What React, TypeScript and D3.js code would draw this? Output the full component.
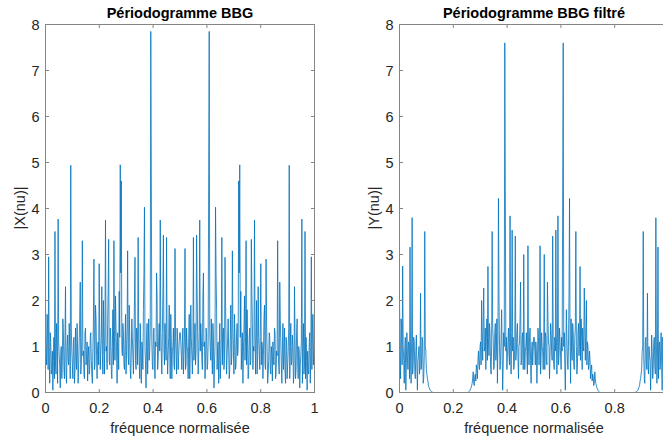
import React from 'react';
import * as d3 from 'd3';

const xTicks = [0, 0.2, 0.4, 0.6, 0.8, 1];
const xTickLabels = ['0', '0.2', '0.4', '0.6', '0.8', '1'];
const yTicks = [0, 1, 2, 3, 4, 5, 6, 7, 8];
const yTickLabels = ['0', '1', '2', '3', '4', '5', '6', '7', '8'];

// |X(nu)| : periodogram of the white gaussian noise (512 bins over [0,1])
const magX = [
  1.9, 0.9, 0.6, 1.7, 1.4, 0.5, 2.95, 0.8, 0.2, 1.3, 1.1, 0.4, 0.5, 0.9, 0.05, 0.7, 1.2, 0.3, 3.5, 0.6,
  0.4, 1.5, 0.9, 0.2, 3.77, 1.1, 0.8, 0.6, 0.1, 0.9, 1.0, 0.3, 0.7, 1.6, 1.3, 0.5, 0.3, 1.2, 2.3, 0.4,
  0.2, 1.0, 1.25, 0.7, 0.6, 1.5, 1.0, 0.3, 4.94, 1.4, 0.9, 0.6, 0.3, 1.1, 1.2, 0.2, 0.45, 1.4, 0.8, 0.5,
  1.5, 0.9, 0.2, 0.6, 1.1, 1.6, 2.4, 0.4, 0.6, 1.2, 3.3, 0.8, 0.9, 0.4, 0.3, 1.3, 1.4, 0.6, 0.7, 1.1,
  0.25, 0.8, 1.0, 0.4, 0.5, 1.2, 1.3, 0.7, 0.4, 0.2, 0.9, 1.5, 2.9, 0.5, 0.6, 1.9, 1.6, 0.8, 0.3, 1.0,
  1.1, 0.6, 2.8, 1.3, 0.5, 0.9, 1.2, 2.3, 0.8, 0.4, 2.0, 1.1, 0.4, 1.6, 3.75, 0.9, 1.0, 0.5, 1.5, 2.2,
  3.33, 0.7, 0.6, 1.4, 1.2, 0.5, 0.3, 1.0, 1.8, 0.6, 3.3, 1.2, 0.7, 2.1, 1.4, 0.9, 0.2, 1.3, 1.0, 0.5,
  2.2, 1.2, 4.95, 2.6, 4.6, 1.0, 0.8, 1.5, 1.3, 0.6, 0.5, 1.1, 1.7, 0.4, 0.9, 1.4, 3.08, 0.8, 0.6, 1.9,
  1.2, 0.5, 0.3, 0.9, 1.6, 1.2, 0.8, 0.4, 1.1, 2.0, 2.94, 0.7, 0.5, 1.4, 1.3, 0.6, 3.37, 1.2, 0.7, 0.3,
  1.5, 0.8, 0.2, 1.1, 1.0, 0.5, 1.8, 2.6, 4.03, 1.0, 0.6, 0.1, 1.2, 1.5, 0.4, 0.9, 1.6, 0.7, 0.9, 1.4,
  7.85, 4.8, 1.1, 0.6, 0.5, 1.3, 1.4, 0.7, 0.3, 1.1, 1.0, 2.6, 2.1, 0.5, 0.7, 1.2, 1.5, 0.9, 3.75, 1.3,
  0.8, 0.4, 1.3, 2.2, 3.42, 0.9, 0.6, 1.5, 1.1, 0.7, 3.37, 1.0, 0.4, 0.8, 1.2, 1.9, 0.9, 0.3, 1.7, 1.1,
  0.3, 0.9, 1.0, 1.4, 0.6, 0.5, 3.13, 1.2, 0.8, 0.4, 1.4, 1.1, 0.5, 0.8, 1.1, 1.3,
  1.3, 1.1, 0.8, 0.5, 1.1, 1.4, 0.4, 0.8, 1.2, 3.13, 0.5, 0.6, 1.4, 1.0, 0.9, 0.3,
  1.1, 1.7, 0.3, 0.9, 1.9, 1.2, 0.8, 0.4, 1.0, 3.37, 0.7, 1.1, 1.5, 0.6, 0.9, 3.42, 2.2, 1.3, 0.4, 0.8,
  1.3, 3.75, 0.9, 1.5, 1.2, 0.7, 0.5, 2.1, 2.6, 1.0, 1.1, 0.3, 0.7, 1.4, 1.3, 0.5, 0.6, 1.1, 4.8, 7.85,
  1.4, 0.9, 0.7, 1.6, 0.9, 0.4, 1.5, 1.2, 0.1, 0.6, 1.0, 4.03, 2.6, 1.8, 0.5, 1.0, 1.1, 0.2, 0.8, 1.5,
  0.3, 0.7, 1.2, 3.37, 0.6, 1.3, 1.4, 0.5, 0.7, 2.94, 2.0, 1.1, 0.4, 0.8, 1.2, 1.6, 0.9, 0.3, 0.5, 1.2,
  1.9, 0.6, 0.8, 3.08, 1.4, 0.9, 0.4, 1.7, 1.1, 0.5, 0.6, 1.3, 1.5, 0.8, 1.0, 4.6, 2.6, 4.95, 1.2, 2.2,
  0.5, 1.0, 1.3, 0.2, 0.9, 1.4, 2.1, 0.7, 1.2, 3.3, 0.6, 1.8, 1.0, 0.3, 0.5, 1.2, 1.4, 0.6, 0.7, 3.33,
  2.2, 1.5, 0.5, 1.0, 0.9, 3.75, 1.6, 0.4, 1.1, 2.0, 0.4, 0.8, 2.3, 1.2, 0.9, 0.5, 1.3, 2.8, 0.6, 1.1,
  1.0, 0.3, 0.8, 1.6, 1.9, 0.6, 0.5, 2.9, 1.5, 0.9, 0.2, 0.4, 0.7, 1.3, 1.2, 0.5, 0.4, 1.0, 0.8, 0.25,
  1.1, 0.7, 0.6, 1.4, 1.3, 0.3, 0.4, 0.9, 0.8, 3.3, 1.2, 0.6, 0.4, 2.4, 1.6, 1.1, 0.6, 0.2, 0.9, 1.5,
  0.5, 0.8, 1.4, 0.45, 0.2, 1.2, 1.1, 0.3, 0.6, 0.9, 1.4, 4.94, 0.3, 1.0, 1.5, 0.6, 0.7, 1.25, 1.0, 0.2,
  0.4, 2.3, 1.2, 0.3, 0.5, 1.3, 1.6, 0.7, 0.3, 1.0, 0.9, 0.1, 0.6, 0.8, 1.1, 3.77, 0.2, 0.9, 1.5, 0.4,
  0.6, 3.5, 0.3, 1.2, 0.7, 0.05, 0.9, 0.5, 0.4, 1.1, 1.3, 0.2, 0.8, 2.95, 0.5, 1.4, 1.7, 0.6, 0.9, 1.9,
];

// |Y(nu)| : periodogram after filtering (512 bins over [0,1])
const magY = [
  2.05, 0.9, 0.3, 1.6, 1.4, 0.6, 2.75, 1.0, 0.7, 0.2, 0.9, 1.2, 0.05, 0.6, 1.3, 0.8, 0.5, 1.1, 1.0, 0.3,
  3.16, 0.7, 0.2, 1.1, 3.8, 0.4, 0.6, 1.2, 1.1, 0.5, 0.3, 0.9, 1.25, 0.6, 0.05, 0.7, 0.8, 1.0, 0.4, 0.6,
  2.16, 0.5, 0.6, 1.2, 1.1, 0.2, 0.3, 0.8, 3.5, 1.0, 0.9, 0.5, 0.4, 0.3, 0.25, 0.15, 0.12, 0.08, 0.05, 0.04,
  0.03, 0.02, 0.01, 0.005, 0, 0, 0, 0, 0, 0, 0, 0, 0, 0, 0, 0, 0, 0, 0, 0,
  0, 0, 0, 0, 0, 0, 0, 0, 0, 0, 0, 0, 0, 0, 0, 0, 0, 0, 0, 0,
  0, 0, 0, 0, 0, 0, 0, 0, 0, 0, 0, 0, 0, 0, 0, 0, 0, 0, 0, 0,
  0, 0, 0, 0, 0, 0, 0, 0, 0, 0, 0.01, 0.01, 0.02, 0.03, 0.05, 0.08, 0.1, 0.15, 0.2, 0.3,
  0.45, 0.2, 0.15, 0.35, 0.4, 0.25, 0.6, 0.5, 0.3, 0.7, 0.9, 0.6, 0.5, 1.0, 1.1, 0.6, 2.0, 1.3, 0.7, 1.5,
  2.27, 0.9, 1.0, 1.4, 0.5, 1.2, 1.6, 0.7, 2.74, 1.1, 0.8, 1.5, 1.3, 0.6, 0.4, 1.0, 3.5, 1.4, 1.2, 0.5,
  0.6, 1.3, 1.5, 0.7, 0.9, 1.6, 0.2, 1.1, 4.22, 2.1, 1.0, 0.5, 0.7, 1.2, 1.8, 0.9, 0.05, 0.6, 1.3, 1.0,
  7.6, 4.4, 0.9, 1.2, 0.5, 0.8, 1.1, 1.4, 0.8, 0.6, 3.84, 1.0, 0.4, 1.3, 3.53, 0.9, 1.2, 0.5, 0.6, 1.1,
  3.4, 0.7, 0.9, 1.3, 1.5, 0.8, 0.3, 1.0, 1.1, 1.6, 2.4, 0.6, 0.7, 1.2, 1.3, 0.5, 3.0, 1.1, 0.5, 0.9,
  1.0, 1.3, 0.8, 0.4, 3.19, 1.0, 0.6, 1.2, 1.4, 0.7, 0.2, 0.9, 1.1, 0.6, 0.9, 1.2,
  1.2, 0.9, 0.6, 1.1, 0.9, 0.2, 0.7, 1.4, 1.2, 0.6, 1.0, 3.19, 0.4, 0.8, 1.3, 1.0,
  0.9, 0.5, 1.1, 3.0, 0.5, 1.3, 1.2, 0.7, 0.6, 2.4, 1.6, 1.1, 1.0, 0.3, 0.8, 1.5, 1.3, 0.9, 0.7, 3.4,
  1.1, 0.6, 0.5, 1.2, 0.9, 3.53, 1.3, 0.4, 1.0, 3.84, 0.6, 0.8, 1.4, 1.1, 0.8, 0.5, 1.2, 0.9, 4.4, 7.6,
  1.0, 1.3, 0.6, 0.05, 0.9, 1.8, 1.2, 0.7, 0.5, 1.0, 2.1, 4.22, 1.1, 0.2, 1.6, 0.9, 0.7, 1.5, 1.3, 0.6,
  0.5, 1.2, 1.4, 3.5, 1.0, 0.4, 0.6, 1.3, 1.5, 0.8, 1.1, 2.74, 0.7, 1.6, 1.2, 0.5, 1.4, 1.0, 0.9, 2.27,
  1.5, 0.7, 1.3, 2.0, 0.6, 1.1, 1.0, 0.5, 0.6, 0.9, 0.7, 0.3, 0.5, 0.6, 0.25, 0.4, 0.35, 0.15, 0.2, 0.45,
  0.3, 0.2, 0.15, 0.1, 0.08, 0.05, 0.03, 0.02, 0.01, 0.01, 0, 0, 0, 0, 0, 0, 0, 0, 0, 0,
  0, 0, 0, 0, 0, 0, 0, 0, 0, 0, 0, 0, 0, 0, 0, 0, 0, 0, 0, 0,
  0, 0, 0, 0, 0, 0, 0, 0, 0, 0, 0, 0, 0, 0, 0, 0, 0, 0, 0, 0,
  0, 0, 0, 0, 0, 0, 0, 0, 0, 0, 0, 0, 0, 0, 0, 0, 0.005, 0.01, 0.02, 0.03,
  0.04, 0.05, 0.08, 0.12, 0.15, 0.25, 0.3, 0.4, 0.5, 0.9, 1.0, 3.5, 0.8, 0.3, 0.2, 1.1, 1.2, 0.6, 0.5, 2.16,
  0.6, 0.4, 1.0, 0.8, 0.7, 0.05, 0.6, 1.25, 0.9, 0.3, 0.5, 1.1, 1.2, 0.6, 0.4, 3.8, 1.1, 0.2, 0.7, 3.16,
  0.3, 1.0, 1.1, 0.5, 0.8, 1.3, 0.6, 0.05, 1.2, 0.9, 0.2, 0.7, 1.0, 2.75, 0.6, 1.4, 1.6, 0.3, 0.9, 2.05,
];

const FONT = '"Liberation Sans", Arial, Helvetica, sans-serif';
const TEXT = '#262626';
const AXIS = '#858585';
const LINE = '#0072BD';
const VIEW_W = 663;

const TOP = 24.5;
const BOTTOM = 392.5;
const WIDTH = 269;

function Panel({ data, left, title, ylabel, id }: { data: number[]; left: number; title: string; ylabel: string; id: string }) {
  const right = left + WIDTH;
  const x = d3.scaleLinear().domain([0, 1]).range([left, right]);
  const y = d3.scaleLinear().domain([0, 8]).range([BOTTOM, TOP]);
  const freq = data.map((_, i) => i / (data.length - 1));
  const path = d3
    .line<number>()
    .x((_, i) => x(freq[i]))
    .y((d) => y(d))(data) as string;
  const tl = 3.5;
  return (
    <g>
      <defs>
        <clipPath id={id}>
          <rect x={left} y={TOP} width={WIDTH} height={BOTTOM - TOP} />
        </clipPath>
      </defs>
      <rect x={left} y={TOP} width={WIDTH} height={BOTTOM - TOP} fill="#fff" />
      <path d={path} fill="none" stroke={LINE} strokeWidth={0.8} clipPath={`url(#${id})`} />
      <rect x={left} y={TOP} width={WIDTH} height={BOTTOM - TOP} fill="none" stroke={AXIS} strokeWidth={1} />
      {xTicks.map((t, i) => (
        <g key={'x' + i}>
          <line x1={x(t)} x2={x(t)} y1={BOTTOM} y2={BOTTOM - tl} stroke={AXIS} />
          <line x1={x(t)} x2={x(t)} y1={TOP} y2={TOP + tl} stroke={AXIS} />
          {x(t) < VIEW_W - 4 && (
            <text x={x(t)} y={413} textAnchor="middle" fontSize={14.5} fill={TEXT} fontFamily={FONT}>
              {xTickLabels[i]}
            </text>
          )}
        </g>
      ))}
      {yTicks.map((t, i) => (
        <g key={'y' + i}>
          <line x1={left} x2={left + tl} y1={y(t)} y2={y(t)} stroke={AXIS} />
          <line x1={right} x2={right - tl} y1={y(t)} y2={y(t)} stroke={AXIS} />
          <text x={left - 6} y={y(t) + 5} textAnchor="end" fontSize={14.5} fill={TEXT} fontFamily={FONT}>
            {yTickLabels[i]}
          </text>
        </g>
      ))}
      <text x={left + WIDTH / 2} y={18} textAnchor="middle" fontSize={14.5} fontWeight="bold" fill="#000" fontFamily={FONT}>
        {title}
      </text>
      <text x={left + WIDTH / 2} y={433} textAnchor="middle" fontSize={14.5} fill={TEXT} fontFamily={FONT}>
        fréquence normalisée
      </text>
      <text transform={`translate(${left - 21},${208}) rotate(-90)`} textAnchor="middle" fontSize={14.5} fill={TEXT} fontFamily={FONT}>
        {ylabel}
      </text>
    </g>
  );
}

export default function App() {
  return (
    <svg
      width={VIEW_W}
      height={441}
      style={{ position: 'absolute', left: 0, top: 0, background: '#fff' }}
    >
      <rect x={0} y={0} width={VIEW_W} height={441} fill="#fff" />
      <Panel data={magX} left={45.5} title="Périodogramme BBG" ylabel="|X(nu)|" id="clipA" />
      <Panel data={magY} left={399.5} title="Périodogramme BBG filtré" ylabel="|Y(nu)|" id="clipB" />
    </svg>
  );
}
